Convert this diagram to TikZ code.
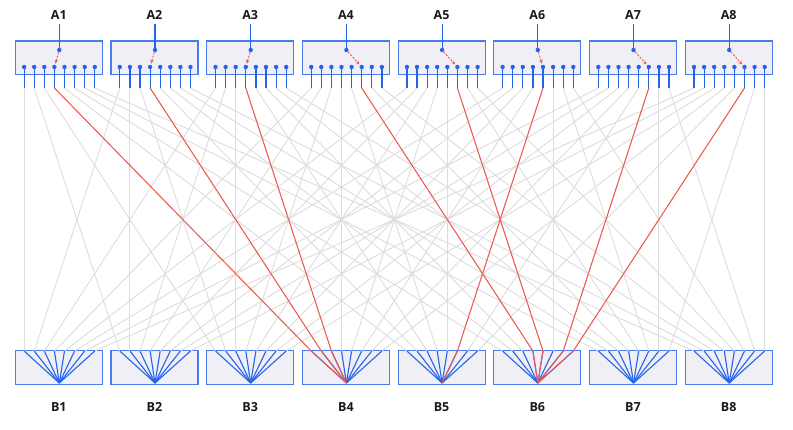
\documentclass[tikz,border=0pt]{standalone}
\usepackage{fontspec}
\setmainfont{Open Sans}
\usetikzlibrary{arrows.meta}
\definecolor{boxfill}{HTML}{EFEFF5}
\definecolor{boxline}{HTML}{4A7CF0}
\definecolor{portblue}{HTML}{2563EB}
\definecolor{linkred}{HTML}{F2574B}
\definecolor{linkgrey}{HTML}{DCDCDC}
\tikzset{
 unitbox/.style={draw=boxline, fill=boxfill, line width=1.2pt, minimum width=87pt, minimum height=33.5pt, inner sep=0pt},
 lbl/.style={font=\bfseries\fontsize{12.5}{14}\selectfont, inner sep=0pt, text=black!90},
 dotnode/.style={circle, fill=portblue, inner sep=0pt, minimum size=4.4pt},
 stem/.style={draw=portblue, line width=1.2pt},
 greylink/.style={draw=linkgrey, line width=0.9pt},
 redlink/.style={draw=linkred, line width=1pt},
 fanline/.style={draw=portblue, line width=1.1pt},
 selarrow/.style={draw=linkred, line width=0.9pt, dash pattern=on 2pt off 1.5pt, -{Stealth[length=4pt,width=3.5pt]}, shorten >=1pt},
}
\begin{document}
\begin{tikzpicture}[x=1pt,y=-1pt]
\useasboundingbox (0,0) rectangle (793,429);
% boxes, labels, coordinates
\foreach \i in {1,...,8}{
  \pgfmathsetmacro{\L}{15.3+(\i-1)*95.7}
  \pgfmathsetmacro{\C}{\L+43.5}
  \pgfmathsetmacro{\D}{\L+44}
  \node[unitbox] (A\i) at (\C,57.7) {};
  \node[unitbox] (B\i) at (\C,367.4) {};
  \node[lbl] (LA\i) at (\C,15) {A\i};
  \node[lbl] (LB\i) at (\C,407) {B\i};
  \coordinate (Ts\i) at (\D,24);
  \node[dotnode] (Ac\i) at (\D,50) {};
  \coordinate (Bc\i) at (\D,383);
  \foreach \j in {1,...,8}{
    \pgfmathsetmacro{\X}{\L+8.8+(\j-1)*10.1}
    \node[dotnode] (Ad\i-\j) at (\X,67) {};
    \coordinate (Ae\i-\j) at (\X,88);
    \coordinate (Bp\i-\j) at (\X,351);
  }
}
% grey links: A_i port j -> B_j port i
\foreach \i in {1,...,8}{
  \foreach \j in {1,...,8}{
    \draw[greylink] (Ae\i-\j) -- (Bp\j-\i);
  }
}
% stems and fans
\foreach \i in {1,...,8}{
  \draw[stem] (Ts\i) -- (Ac\i);
  \foreach \j in {1,...,8}{
    \draw[stem] (Ad\i-\j) -- (Ae\i-\j);
    \draw[fanline] (Bp\i-\j) -- (Bc\i);
  }
}
% active paths
\foreach \i/\s in {1/4,2/4,3/4,4/6,5/6,6/5,7/6,8/6}{
  \draw[redlink] (Ae\i-\s) -- (Bp\s-\i);
  \draw[redlink] (Bp\s-\i) -- (Bc\s);
  \draw[selarrow] (Ac\i) -- (Ad\i-\s);
}
\end{tikzpicture}
\end{document}
